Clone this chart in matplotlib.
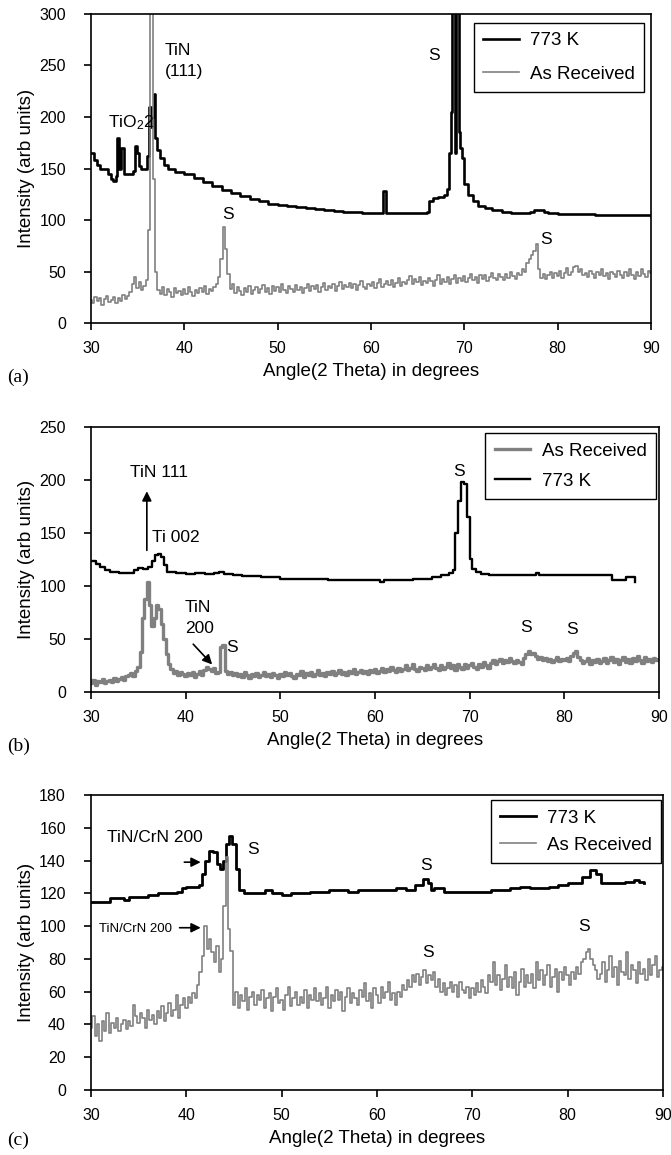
import matplotlib
matplotlib.use('Agg')
import matplotlib.pyplot as plt
import numpy as np

plt.rcParams['font.family'] = ['Liberation Sans', 'DejaVu Sans']
plt.rcParams['mathtext.default'] = 'regular'

# ---- panel (a) ----
# as received, sampled every 0.25 deg from 30 to 90
a_gray = [22, 19, 25, 21, 24, 18, 23, 26, 20, 22, 25, 19, 24, 21, 27, 23,
          26, 30, 38, 45, 34, 40, 32, 36,
          42, 90, 305, 140,
          50, 32, 28, 35,
          27, 33, 30, 25, 34, 29, 31, 27,
          33, 28, 35, 30, 26, 32, 29, 34,
          30, 36, 28, 33, 31, 35, 38, 45,
          62, 93, 72, 48,
          33, 38, 29, 35,
          31, 27, 34, 30, 36, 28, 32, 35,
          29, 33, 37, 30, 34, 28, 36, 31,
          35, 30, 38, 32, 29, 36, 33, 30,
          37, 32, 35, 29, 34, 38, 31, 36,
          33, 37, 30, 35, 39, 32, 36, 34,
          38, 31, 36, 40, 33, 37, 35, 39,
          34, 38, 32, 37, 41, 35, 33, 38,
          36, 40, 34, 39, 43, 35, 38, 41,
          37, 42, 35, 39, 44, 36, 40, 38,
          42, 46, 38, 43, 40, 45, 37, 41,
          39, 44, 41, 36, 42, 47, 38, 43,
          40, 45, 38, 43, 47, 39, 44, 41,
          46, 40, 44, 48, 42, 45, 39, 47,
          43, 47, 41, 45, 49, 44, 42, 48,
          45, 42, 48, 44, 50, 46, 43, 49,
          47, 52, 50, 58,
          62, 66, 70, 77,
          52, 44, 48, 43,
          47, 50, 44, 49,
          46, 51, 44, 49, 53, 47, 50, 54,
          55, 50, 52, 47, 49, 45, 51, 48,
          44, 50, 47, 52, 46, 49, 43, 50,
          48, 45, 51, 47, 44, 50, 46, 52,
          47, 43, 50, 46, 52, 48, 45, 51,
          49]

a_black_x = [30, 30.3, 30.6, 31, 31.4, 31.8, 32.1, 32.4, 32.7, 32.75, 33.0, 33.05, 33.2, 33.25, 33.5,
             34.0, 34.5, 34.7, 34.9, 35.1, 35.4, 35.8, 36.0, 36.2, 36.4, 36.55, 36.7, 36.9, 37.1, 37.4,
             37.8, 38.3, 39, 40, 41, 42, 43, 44, 45, 46, 47, 48, 49, 50, 51, 52, 53, 54, 55, 56, 57,
             58, 59, 60, 61.2, 61.25, 61.6, 61.65, 62, 63, 64, 65, 66, 66.2, 66.6, 67.2, 67.8, 68.1,
             68.4, 68.6, 68.7, 68.9, 69.0, 69.15, 69.25, 69.4, 69.5, 69.7, 70.0, 70.4, 70.9, 71.5,
             72.2, 73, 74, 75, 76, 77, 77.5, 78, 78.5, 79, 80, 82, 84, 86, 88, 90]
a_black = [165, 158, 153, 150, 150, 145, 140, 138, 143, 180, 180, 150, 150, 170, 145,
           145, 148, 172, 165, 152, 150, 150, 162, 210, 190, 200, 222, 180, 168, 160,
           153, 150, 147, 145, 141, 137, 133, 129, 126, 123, 120, 118, 116, 115, 114, 113, 112, 111, 110, 109, 108,
           108, 107, 107, 107, 128, 128, 107, 107, 107, 107, 107, 108, 118, 121, 122, 124, 130,
           165, 205, 320, 320, 165, 320, 320, 185, 170, 160, 135, 124, 118, 114,
           112, 110, 108, 107, 107, 108, 110, 110, 108, 107, 106, 106, 105, 105, 105, 104]

# ---- panel (b) ----
b_gray = [8, 11, 7, 10, 9, 12, 8, 10,
          11, 9, 13, 10, 12, 14, 11, 15,
          16, 18, 15, 20,
          24, 38, 70, 88,
          104, 82, 62, 70,
          82, 78, 64, 50,
          36, 26, 22, 18,
          20, 16, 19, 17,
          15, 18, 16, 19, 14, 17, 20, 16,
          21, 24, 22, 20, 23, 18, 19, 42,
          44, 20, 17, 19,
          16, 18, 15, 17, 14, 19, 16, 13,
          17, 15, 18, 14, 16, 19, 15, 17,
          14, 18, 16, 13, 17, 15, 19, 16,
          18, 15, 13, 17, 16, 20, 14, 18,
          16, 19, 15, 17, 21, 16, 18, 15,
          19, 17, 20, 16, 18, 21, 17, 19,
          16, 20, 18, 22, 17, 19, 21, 18,
          20, 17, 21, 19, 22, 18, 20, 23,
          19, 22, 20, 24, 21, 19, 23, 20,
          22, 25, 21, 23, 26, 22, 20, 24,
          23, 21, 25, 22, 24, 26, 23, 21,
          25, 22, 24, 27, 23, 25, 21, 26,
          24, 22, 26, 23, 25, 27, 24, 22,
          26, 24, 28, 25, 23, 27, 30, 26,
          29, 31, 27, 30, 28, 32, 29, 27,
          30, 28, 26, 32,
          36, 39, 36, 37,
          34, 31, 33, 30,
          32, 29, 31, 28, 30, 33, 29, 31,
          30, 32, 29, 34, 37, 39, 33, 30,
          27, 29, 32, 26, 30, 28, 31, 27,
          29, 32, 27, 30, 33, 28, 31, 26,
          30, 33, 28, 31, 27, 32, 29, 34,
          30, 27, 33, 29, 31, 28, 32, 30,
          31]

b_black_x = [30, 30.5, 31, 31.5, 32, 33, 34, 34.5, 35, 35.5, 36, 36.4, 36.8, 37.1, 37.4,
             37.7, 38, 39, 40, 41, 41.5, 42, 43, 43.5, 44, 45, 46, 48, 50, 52, 55, 58, 60,
             60.5, 61, 62, 64, 66, 67, 67.8, 68.2, 68.5, 68.8, 69.1, 69.4, 69.7, 70.0, 70.3,
             70.7, 71.2, 72, 74, 76, 76.8, 77.0, 77.3, 80, 83, 84.5, 85, 86, 86.5, 87, 87.5]
b_black = [124, 121, 118, 115, 113, 112, 112, 115, 117, 116, 118, 124, 129, 130, 127,
           120, 113, 112, 111, 112, 112, 111, 112, 113, 111, 110, 109, 108, 107, 107, 106, 106, 106,
           104, 106, 106, 107, 108, 110, 112, 115, 150, 180, 198, 196, 165, 125, 116,
           113, 111, 110, 110, 110, 110, 112, 110, 110, 110, 110, 106, 106, 108, 108, 104]

# ---- panel (c) ----
c_gray = [38, 45, 33, 40, 30, 42, 36, 47,
          35, 41, 38, 44, 36, 40, 43, 37,
          42, 39, 52, 45,
          41, 47, 44, 38, 49, 43, 46, 40,
          48, 44, 51, 42, 47, 53, 45, 49,
          58, 44, 52, 56,
          50, 57, 53, 59,
          56, 64, 72, 82,
          100, 86, 92, 84,
          78, 88, 72, 80,
          112, 142, 98, 85,
          52, 60, 50, 58,
          54, 62, 49, 57, 60, 52, 58, 55,
          61, 50, 56, 59, 48, 57, 62, 53,
          55, 49, 58, 63, 51, 56, 60, 52,
          57, 53, 61, 50, 58, 55, 62, 54,
          59, 52, 56, 63, 50, 58, 54, 61,
          55, 60, 48, 57, 62, 53, 59, 56,
          52, 61, 57, 65, 54, 59, 50, 62,
          58, 53, 63, 56, 60, 66, 55, 59,
          52, 60, 57, 64, 61, 67, 63, 70,
          66, 71, 64, 69, 73, 65, 70, 67,
          72, 63, 68, 60, 65, 58, 62, 66,
          60, 64, 57, 66, 61, 59, 63, 56,
          62, 58, 65, 60, 67, 63, 59, 70,
          66, 78, 64, 70, 61, 68, 76, 63,
          69, 62, 72, 58, 66, 74, 63, 70,
          65, 71, 62, 78, 67, 73, 64, 70,
          76, 63, 69, 74, 60, 72, 67, 75,
          70, 64, 72, 68, 75, 71, 78, 80,
          84, 86, 80, 76, 73, 68, 71, 78,
          66, 73, 82, 69, 75, 64, 79, 72,
          70, 84, 68, 76, 73, 65, 78, 71,
          74, 67, 80, 70, 76, 82, 69, 73,
          75]

c_black_x = [30, 31, 32, 33, 33.5, 34, 35, 36, 37, 38, 39, 39.5, 40, 41, 41.3, 41.6, 42, 42.4,
             42.8, 43.2, 43.5, 43.8, 44.2, 44.5, 44.8, 45.2, 45.5, 46, 47, 48, 48.3, 49, 50, 51,
             53, 55, 57, 58, 60, 62, 63, 64, 64.8, 65.3, 65.7, 66, 67, 70, 72, 74, 75, 76, 78,
             79, 80, 81, 81.5, 82.3, 83, 83.5, 85, 86, 87, 87.5, 88]
c_black = [115, 115, 117, 117, 116, 118, 118, 119, 120, 120, 121, 123, 124, 124, 125, 132, 140, 146,
           145, 138, 135, 140, 150, 155, 150, 135, 122, 120, 120, 120, 122, 120, 119, 120,
           121, 122, 121, 122, 122, 123, 122, 125, 129, 126, 122, 123, 121, 121, 122, 123, 124, 123, 124,
           125, 126, 126, 130, 134, 132, 126, 126, 127, 128, 127, 126]

step = 0.25
GRAY = '#808080'

fig = plt.figure(figsize=(6.71, 11.55), dpi=100)


def style_axes(ax, ymax, ystep):
    ax.set_xlim(30, 90)
    ax.set_ylim(0, ymax)
    ax.set_xticks(range(30, 91, 10))
    ax.set_yticks(range(0, ymax + 1, ystep))
    ax.tick_params(direction='out', length=5, width=1.2, labelsize=11.5)
    ax.tick_params(axis='x', pad=8)
    ax.tick_params(axis='y', pad=13)
    for sp in ax.spines.values():
        sp.set_linewidth(1.2)
    ax.set_xlabel('Angle(2 Theta) in degrees', fontsize=13.5, labelpad=5)
    ax.set_ylabel('Intensity (arb units)', fontsize=13.5, labelpad=3)


def angles(vals):
    return 30 + step * np.arange(len(vals))


def add_legend(ax, anchor, spacing):
    leg = ax.legend(loc='upper right', bbox_to_anchor=anchor, borderaxespad=0, fontsize=13.5,
                    fancybox=False, edgecolor='black', framealpha=1, handlelength=1.9,
                    handletextpad=0.6, labelspacing=spacing, borderpad=0.5)
    leg.get_frame().set_linewidth(1.0)


# (a)
ax1 = fig.add_axes([0.1356, 0.7203, 0.8346, 0.2676])
ax1.plot(a_black_x, a_black, color='black', lw=1.9, drawstyle='steps-post', label='773 K')
ax1.plot(angles(a_gray), a_gray, color=GRAY, lw=1.2, drawstyle='steps-mid', label='As Received')
style_axes(ax1, 300, 50)
add_legend(ax1, (0.9875, 0.971), 0.85)
ax1.text(37.9, 265, 'TiN', fontsize=12.5, va='center')
ax1.text(37.9, 244, '(111)', fontsize=12.5, va='center')
ax1.text(31.8, 195, 'TiO$_2$2', fontsize=12.5, va='center')
ax1.text(66.8, 260, 'S', fontsize=12.5, va='center', ha='center')
ax1.text(44.7, 105, 'S', fontsize=12.5, va='center', ha='center')
ax1.text(78.7, 81, 'S', fontsize=12.5, va='center', ha='center')
fig.text(0.010, 1 - 377 / 1155, '(a)', family='Liberation Serif', fontsize=14, va='center')

# (b)
ax2 = fig.add_axes([0.1356, 0.4009, 0.8465, 0.2294])
ax2.plot(angles(b_gray), b_gray, color=GRAY, lw=2.4, drawstyle='steps-mid', label='As Received')
ax2.plot(b_black_x, b_black, color='black', lw=1.7, drawstyle='steps-post', label='773 K')
style_axes(ax2, 250, 50)
add_legend(ax2, (0.9947, 0.977), 0.7)
ax2.annotate('', xy=(35.9, 192), xytext=(35.9, 131),
             arrowprops=dict(arrowstyle='-|>', color='black', lw=1.2, mutation_scale=14))
ax2.text(34.1, 207, 'TiN 111', fontsize=12.5, va='center')
ax2.text(36.4, 146, 'Ti 002', fontsize=12.5, va='center')
ax2.text(39.9, 80, 'TiN', fontsize=12.5, va='center')
ax2.text(39.9, 60, '200', fontsize=12.5, va='center')
ax2.annotate('', xy=(43.0, 24), xytext=(40.6, 47),
             arrowprops=dict(arrowstyle='-|>', color='black', lw=1.2, mutation_scale=14))
ax2.text(44.9, 42, 'S', fontsize=12.5, va='center', ha='center')
ax2.text(68.9, 208, 'S', fontsize=12.5, va='center', ha='center')
ax2.text(76.0, 61, 'S', fontsize=12.5, va='center', ha='center')
ax2.text(80.8, 59, 'S', fontsize=12.5, va='center', ha='center')
fig.text(0.010, 1 - 746 / 1155, '(b)', family='Liberation Serif', fontsize=14, va='center')

# (c)
ax3 = fig.add_axes([0.1356, 0.0563, 0.8525, 0.2554])
ax3.plot(c_black_x, c_black, color='black', lw=2.0, drawstyle='steps-post', label='773 K')
ax3.plot(angles(c_gray), c_gray, color=GRAY, lw=1.2, drawstyle='steps-mid', label='As Received')
style_axes(ax3, 180, 20)
add_legend(ax3, (0.9965, 0.983), 0.55)
ax3.text(31.7, 154, 'TiN/CrN 200', fontsize=12.5, va='center')
ax3.annotate('', xy=(41.8, 139), xytext=(39.5, 139),
             arrowprops=dict(arrowstyle='-|>', color='black', lw=1.2, mutation_scale=14))
ax3.text(47.0, 147, 'S', fontsize=12.5, va='center', ha='center')
ax3.text(30.8, 98, 'TiN/CrN 200', fontsize=9.5, va='center')
ax3.annotate('', xy=(41.8, 99), xytext=(39.0, 99),
             arrowprops=dict(arrowstyle='-|>', color='black', lw=1.2, mutation_scale=14))
ax3.text(65.1, 137, 'S', fontsize=12.5, va='center', ha='center')
ax3.text(81.7, 100, 'S', fontsize=12.5, va='center', ha='center')
ax3.text(65.4, 84, 'S', fontsize=12.5, va='center', ha='center')
fig.text(0.010, 1 - 1140 / 1155, '(c)', family='Liberation Serif', fontsize=14, va='center')

fig.savefig('out.png', dpi=100)
